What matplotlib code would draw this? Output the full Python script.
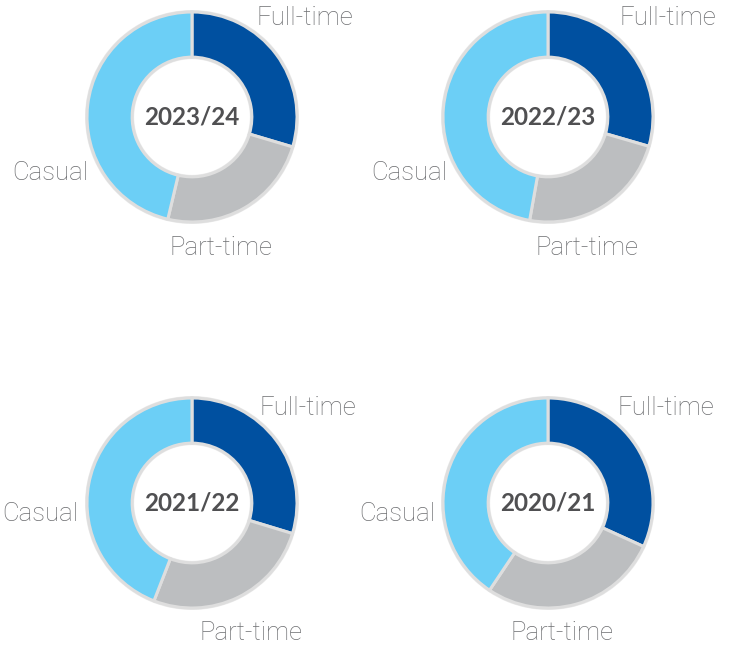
import matplotlib
matplotlib.use('Agg')
import matplotlib.pyplot as plt

# ── Data ──────────────────────────────────────────────────
years = ['2023/24', '2022/23', '2021/22', '2020/21']
categories = ['Full-time', 'Part-time', 'Casual']
full_time = [29.6, 29.5, 29.7, 31.8]
part_time = [24.1, 23.3, 26.2, 27.6]
casual = [46.3, 47.2, 44.1, 40.6]

colors = ['#0050a0', '#bcbec0', '#6ccff6']

# ── Layout (pixel coords, origin top-left) ────────────────
W, H = 733, 646
centers = [(192, 117), (548, 117), (192, 503), (548, 503)]
R = 105
# label offsets from each donut centre: full, part, casual
label_offsets = [
    [(113, -99), (29, 131), (-142, 56)],
    [(120, -99), (39, 131), (-139, 56)],
    [(116, -95), (59, 130), (-152, 11)],
    [(118, -95), (14, 130), (-151, 11)],
]

plt.rcParams['font.family'] = ['Lato', 'DejaVu Sans']

fig = plt.figure(figsize=(W / 100, H / 100), dpi=100)
ax = fig.add_axes([0, 0, 1, 1])

for i, yr in enumerate(years):
    cx, cy = centers[i]
    vals = [full_time[i], part_time[i], casual[i]]
    # soft halo behind the ring
    ax.pie([1], colors=['#ececec'], radius=R + 2, center=(cx, H - cy),
           wedgeprops=dict(width=R * 0.43 + 4, linewidth=0))
    ax.pie(vals, colors=colors, startangle=90, counterclock=False,
           radius=R, center=(cx, H - cy),
           wedgeprops=dict(width=R * 0.43, edgecolor='#dedede', linewidth=2.2))
    ax.text(cx, H - cy, yr, ha='center', va='center', fontsize=17.5,
            fontweight='bold', color='#505052')
    for cat, (dx, dy) in zip(categories, label_offsets[i]):
        ax.text(cx + dx, H - (cy + dy), cat, ha='center', va='center',
                fontsize=18.5, family=['Roboto', 'DejaVu Sans'],
                fontweight='light', color='#6d6e71')

ax.set_xlim(0, W)
ax.set_ylim(0, H)
ax.set_aspect('equal')
ax.axis('off')

plt.savefig('out.png', dpi=100)
plt.close()
